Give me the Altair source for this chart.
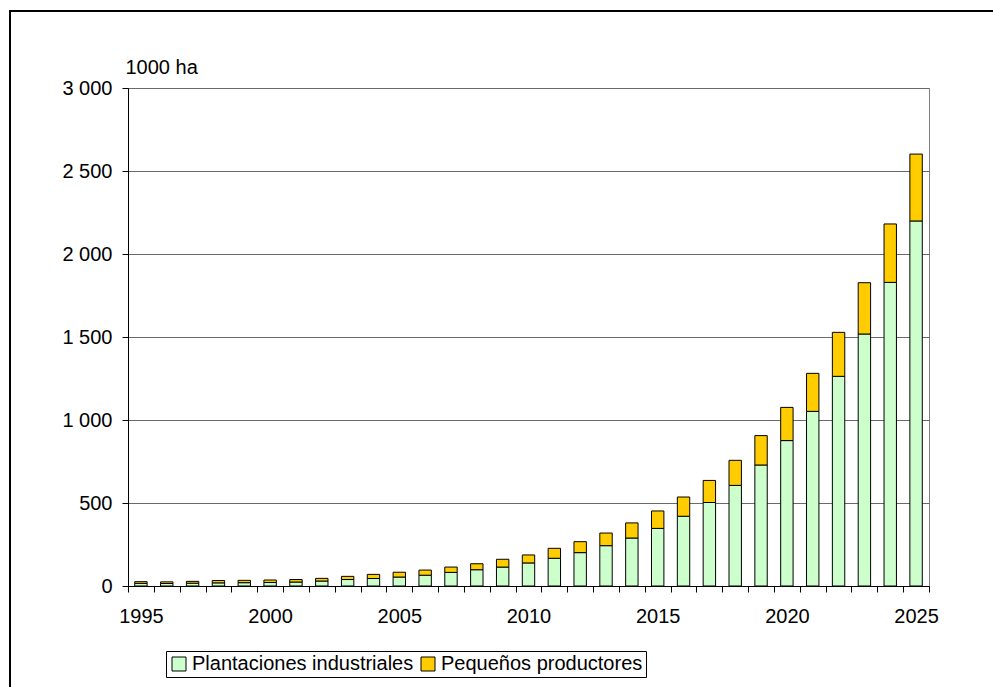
import altair as alt
import pandas as pd

# Oil palm planted area, 1000 ha, by producer type
years = list(range(1995, 2026))
industrial = [16, 15, 17, 19, 20, 21, 24, 30, 39, 45, 54, 65, 82, 98, 114, 139,
              167, 201, 243, 289, 347, 420, 503, 606, 729, 876, 1052, 1263,
              1518, 1829, 2199]
smallholders = [10, 10, 11, 14, 14, 15, 15, 16, 19, 25, 29, 31, 32, 36, 47, 48,
                60, 66, 76, 91, 105, 116, 133, 151, 177, 200, 229, 265, 309,
                352, 403]
series_names = ["Plantaciones industriales", "Pequeños productores"]
series_colors = ["#CCFFCC", "#FFCC00"]
y_ticks = [0, 500, 1000, 1500, 2000, 2500, 3000]

rows = []
for i, yr in enumerate(years):
    rows.append({"year": str(yr), "series": series_names[0],
                 "value": industrial[i], "order": 0})
    rows.append({"year": str(yr), "series": series_names[1],
                 "value": smallholders[i], "order": 1})
df = pd.DataFrame(rows)

FONT = "Liberation Sans"
FS = 20

bars = alt.Chart(df).mark_bar(
    width=alt.RelativeBandSize(0.48), stroke="black", strokeWidth=1
).encode(
    x=alt.X(
        "year:O",
        scale=alt.Scale(paddingInner=0, paddingOuter=0),
        axis=alt.Axis(
            title=None, labelAngle=0, tickBand="extent", grid=False,
            labelExpr="toNumber(datum.value) % 5 == 0 ? datum.label : ''",
            labelOverlap=False, labelFontSize=FS, labelColor="black",
            labelPadding=14, tickSize=6, tickColor="black",
            domainColor="black",
        ),
    ),
    y=alt.Y(
        "value:Q",
        stack="zero",
        scale=alt.Scale(domain=[0, 3000], nice=False),
        axis=alt.Axis(
            values=y_ticks, title="1000 ha", titleAngle=0, titleX=-3,
            titleY=-15, titleAlign="left", titleBaseline="alphabetic",
            titleFontWeight="normal", titleFontSize=FS, titleColor="black",
            labelExpr="replace(format(datum.value, ','), ',', ' ')",
            labelFontSize=FS, labelColor="black", labelPadding=10,
            tickSize=6, tickColor="black", domainColor="black",
            gridColor="#6a6a6a", gridWidth=1,
        ),
    ),
    color=alt.Color(
        "series:N",
        scale=alt.Scale(domain=series_names, range=series_colors),
        legend=alt.Legend(
            title=None, orient="none", legendX=38, legendY=563,
            direction="horizontal", strokeColor="black", padding=3,
            labelFontSize=FS, labelColor="black", labelLimit=400,
            symbolType="square", symbolSize=196, symbolStrokeColor="black",
            symbolStrokeWidth=1, labelOffset=3, columnPadding=4,
        ),
    ),
    order=alt.Order("order:Q"),
)

# Outer frame around the whole figure
frame = alt.Chart(pd.DataFrame({"k": [0]})).mark_rect(
    filled=False, stroke="black", strokeWidth=2
).encode(
    x=alt.value(-118), x2=alt.value(1000),
    y=alt.value(-77), y2=alt.value(700),
)

chart = alt.layer(bars, frame).properties(
    width=801, height=498,
    autosize=alt.AutoSizeParams(type="none"),
    padding={"left": 128, "top": 88, "right": 64, "bottom": 101},
    background="white",
).configure(font=FONT).configure_view(stroke="#808080", strokeWidth=1)

chart.save("out.html", embed_options={"renderer": "svg", "actions": False})
